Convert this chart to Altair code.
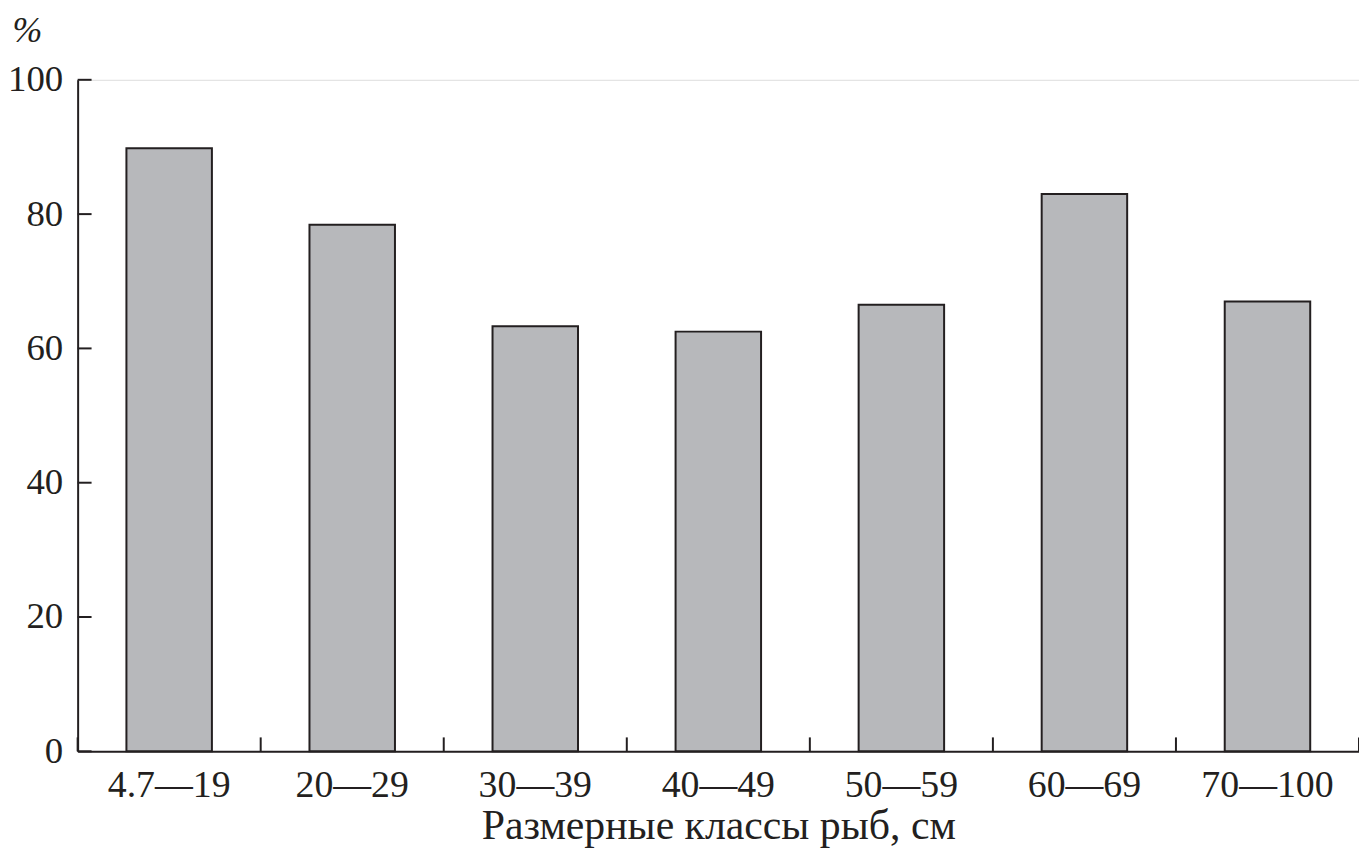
import altair as alt
import pandas as pd

categories = ["4.7—19", "20—29", "30—39", "40—49", "50—59", "60—69", "70—100"]
values = [89.8, 78.4, 63.3, 62.5, 66.5, 83.0, 67.0]
y_ticks = [0, 20, 40, 60, 80, 100]

df = pd.DataFrame({"cls": categories, "pct": values})
ticks_df = pd.DataFrame({"v": y_ticks})
last_df = pd.DataFrame({"cls": categories[-1:]})

FONT = "Liberation Serif"
INK = "#231f20"
W, H = 1288, 675

xscale = alt.Scale(domain=categories, paddingInner=0, paddingOuter=0)
yscale = alt.Scale(domain=[0, 100], nice=False)

xaxis = alt.Axis(title="Размерные классы рыб, см", labelAngle=0, ticks=False, grid=False,
                 domainColor=INK, domainWidth=2, labelFont=FONT, labelFontSize=38,
                 labelColor=INK, labelPadding=15, titleFont=FONT, titleFontSize=42,
                 titleFontWeight="normal", titleColor=INK, titlePadding=2)
yaxis = alt.Axis(title="%", values=y_ticks, ticks=False, grid=False,
                 domainColor=INK, domainWidth=2, labelFont=FONT, labelFontSize=37,
                 labelColor=INK, labelPadding=15, titleFont=FONT, titleFontSize=36,
                 titleFontStyle="italic", titleFontWeight="normal", titleColor=INK,
                 titleAngle=0, titleX=-66, titleY=-38, titleAlign="left",
                 titleBaseline="alphabetic")

bars = alt.Chart(df).mark_bar(
    width=alt.RelativeBandSize(0.467), fill="#b7b8bb", stroke=INK, strokeWidth=2
).encode(
    x=alt.X("cls:N", scale=xscale, sort=categories, axis=xaxis),
    y=alt.Y("pct:Q", scale=yscale, axis=yaxis),
)

yt = alt.Chart(ticks_df).mark_rule(color=INK, strokeWidth=2).encode(
    y=alt.Y("v:Q", scale=yscale, axis=yaxis),
    x=alt.value(0), x2=alt.value(14),
)

xt = alt.Chart(df).mark_rule(color=INK, strokeWidth=2).encode(
    x=alt.X("cls:N", scale=xscale, sort=categories, bandPosition=0, axis=xaxis),
    y=alt.value(H), y2=alt.value(H - 14),
)

xt_last = alt.Chart(last_df).mark_rule(color=INK, strokeWidth=2).encode(
    x=alt.X("cls:N", scale=xscale, sort=categories, bandPosition=1, axis=xaxis),
    y=alt.value(H), y2=alt.value(H - 14),
)

chart = alt.layer(bars, yt, xt, xt_last).properties(
    width=W, height=H,
    autosize=alt.AutoSizeParams(type="none"),
    padding={"left": 70, "top": 70, "right": 0, "bottom": 95},
).configure_view(strokeWidth=0).configure(background="white")

chart.save("out.html", embed_options={"renderer": "svg", "actions": False})
